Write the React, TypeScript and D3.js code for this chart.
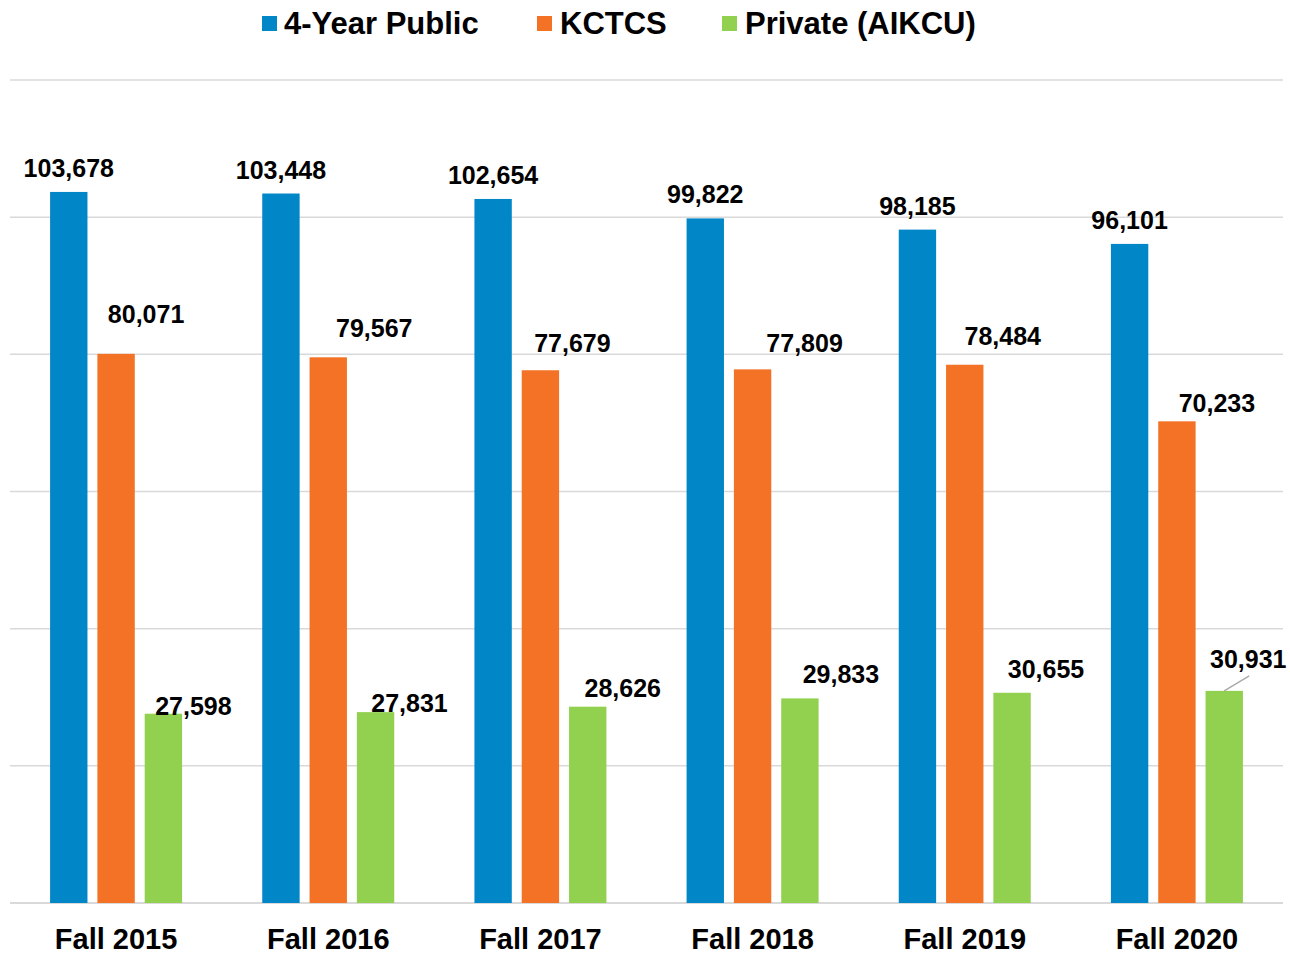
import React from 'react';
import * as d3 from 'd3';

// chart data
const categories = ['Fall 2015', 'Fall 2016', 'Fall 2017', 'Fall 2018', 'Fall 2019', 'Fall 2020'];
const seriesNames = ['4-Year Public', 'KCTCS', 'Private (AIKCU)'];
const publicValues = [103678, 103448, 102654, 99822, 98185, 96101];
const kctcsValues = [80071, 79567, 77679, 77809, 78484, 70233];
const privateValues = [27598, 27831, 28626, 29833, 30655, 30931];
const yTicks = [0, 20000, 40000, 60000, 80000, 100000, 120000];

const colors = ['#0187C8', '#F37225', '#92D050'];

// manual label nudges (as in the source workbook): [dx from bar centre, rise above bar top]
const labelNudge = [
  [[0, 24], [0, 24], [0, 24], [0, 24], [0, 24], [0, 24]],
  [[30, 40], [46, 29], [32, 27], [52, 26], [38, 29], [40, 18]],
  [[30, 8], [34, 9], [35, 19], [41, 24], [34, 24], [24, 32]],
];

const W = 1290;
const H = 955;
const FONT = '"Liberation Sans", Arial, sans-serif';

export default function App() {
  const series = [publicValues, kctcsValues, privateValues];

  const x0 = d3.scaleBand().domain(categories).range([10, 1283]).padding(0);
  const groupW = 132;
  const x1 = d3
    .scaleBand()
    .domain(seriesNames)
    .range([(x0.bandwidth() - groupW) / 2, (x0.bandwidth() + groupW) / 2])
    .paddingInner(0.21)
    .paddingOuter(0);
  const y = d3.scaleLinear().domain([0, 120000]).range([903, 80]);

  // legend layout
  const legendItems = [
    { sq: 262, tx: 284 },
    { sq: 537, tx: 560 },
    { sq: 722, tx: 745 },
  ];

  return (
    <svg
      width={W}
      height={H}
      style={{ position: 'absolute', left: 0, top: 0, background: '#fff' }}
      fontFamily={FONT}
    >
      {/* gridlines */}
      {yTicks.map((t) => (
        <line
          key={t}
          x1={10}
          x2={1283}
          y1={y(t)}
          y2={y(t)}
          stroke="#D9D9D9"
          strokeWidth={t === 0 ? 2 : 1.5}
        />
      ))}

      {/* bars */}
      {categories.map((c, i) => (
        <g key={c} transform={`translate(${x0(c)}, 0)`}>
          {series.map((vals, s) => (
            <rect
              key={s}
              x={x1(seriesNames[s])}
              y={y(vals[i])}
              width={x1.bandwidth()}
              height={y(0) - y(vals[i])}
              fill={colors[s]}
            />
          ))}
        </g>
      ))}

      {/* value labels */}
      {categories.map((c, i) =>
        series.map((vals, s) => {
          const cx = (x0(c) as number) + (x1(seriesNames[s]) as number) + x1.bandwidth() / 2;
          const [dx, rise] = labelNudge[s][i];
          return (
            <text
              key={`${c}-${s}`}
              x={cx + dx}
              y={y(vals[i]) - rise}
              dy="0.36em"
              textAnchor="middle"
              fontSize={25}
              fontWeight="bold"
              fill="#000"
            >
              {d3.format(',')(vals[i])}
            </text>
          );
        })
      )}

      {/* leader line for the last private label */}
      {(() => {
        const c = categories[5];
        const cx = (x0(c) as number) + (x1(seriesNames[2]) as number) + x1.bandwidth() / 2;
        const top = y(privateValues[5]);
        return <line x1={cx} y1={top} x2={cx + 25} y2={top - 15} stroke="#A6A6A6" strokeWidth={1.2} />;
      })()}

      {/* category axis labels */}
      {categories.map((c) => (
        <text
          key={c}
          x={(x0(c) as number) + x0.bandwidth() / 2}
          y={948.5}
          textAnchor="middle"
          fontSize={29}
          fontWeight="bold"
          fill="#000"
        >
          {c}
        </text>
      ))}

      {/* legend */}
      {seriesNames.map((n, s) => (
        <g key={n}>
          <rect x={legendItems[s].sq} y={16} width={15} height={15} fill={colors[s]} />
          <text x={legendItems[s].tx} y={23} dy="0.36em" fontSize={31} fontWeight="bold" fill="#000">
            {n}
          </text>
        </g>
      ))}
    </svg>
  );
}
